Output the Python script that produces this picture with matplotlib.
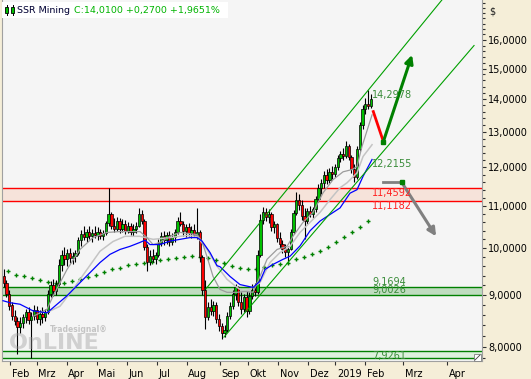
import matplotlib.pyplot as plt
import numpy as np
from matplotlib.patches import Rectangle
from matplotlib.ticker import NullFormatter
import matplotlib.transforms as mtransforms

# candles, one per 2 trading days (x = 2*k + 0.5)
opens = [9.40, 9.25, 9.02, 8.80, 8.58, 8.48, 8.36, 8.45, 8.55, 8.65,
         8.50, 8.58, 8.70, 8.52, 8.62, 8.55, 8.66, 9.02, 9.20, 9.08,
         9.22, 9.62, 9.85, 9.75, 9.90, 9.78, 9.82, 9.88, 10.18, 10.32,
         10.25, 10.38, 10.28, 10.35, 10.30, 10.38, 10.28, 10.35, 10.58, 10.80,
         10.52, 10.45, 10.62, 10.45, 10.55, 10.40, 10.50, 10.38, 10.45, 10.52,
         10.80, 10.62, 10.02, 9.70, 9.82, 9.75, 9.85, 10.12, 10.28, 10.18,
         10.30, 10.15, 10.25, 10.38, 10.62, 10.55, 10.40, 10.48, 10.35, 10.42,
         10.30, 10.38, 9.80, 9.10, 8.55, 8.75, 8.68, 8.80, 8.52, 8.38,
         8.25, 8.32, 8.58, 8.78, 9.02, 9.15, 8.85, 8.72, 8.95, 8.68,
         8.98, 9.10, 9.05, 9.85, 10.65, 10.85, 10.72, 10.80, 10.48, 10.55,
         10.22, 10.10, 9.98, 9.92, 9.98, 10.38, 10.82, 11.15, 11.02, 10.75,
         10.62, 10.88, 10.80, 10.92, 11.18, 11.45, 11.58, 11.80, 11.65, 11.88,
         11.82, 12.00, 12.25, 12.38, 12.30, 12.60, 12.28, 11.95, 11.75, 12.50,
         13.20, 13.68, 13.85, 13.78]
highs = [9.55, 9.30, 9.10, 8.85, 8.70, 8.55, 8.55, 8.62, 8.72, 8.75,
         8.65, 8.80, 8.78, 8.70, 8.75, 8.72, 9.10, 9.28, 9.32, 9.30,
         9.75, 9.95, 10.02, 9.98, 10.00, 9.92, 9.95, 10.25, 10.42, 10.50,
         10.45, 10.52, 10.45, 10.50, 10.48, 10.45, 10.42, 10.62, 11.45, 10.85,
         10.70, 10.72, 10.70, 10.68, 10.65, 10.60, 10.58, 10.55, 10.60, 10.95,
         10.90, 10.68, 10.10, 9.95, 9.98, 9.92, 10.20, 10.38, 10.40, 10.38,
         10.40, 10.35, 10.45, 10.72, 10.85, 10.62, 10.55, 10.58, 10.50, 10.55,
         10.95, 10.42, 9.85, 9.30, 8.85, 8.92, 8.88, 8.85, 8.62, 8.45,
         8.40, 8.65, 8.85, 9.10, 9.22, 9.18, 9.05, 9.02, 9.10, 9.05,
         9.22, 9.25, 9.95, 10.80, 10.98, 10.95, 10.92, 10.85, 10.62, 10.58,
         10.38, 10.18, 10.10, 10.05, 10.45, 10.90, 11.35, 11.30, 11.15, 10.95,
         10.95, 11.00, 10.98, 11.25, 11.55, 11.70, 11.90, 11.95, 11.98, 12.05,
         12.10, 12.35, 12.45, 12.55, 12.75, 12.65, 12.35, 12.10, 12.60, 13.30,
         13.80, 14.05, 14.2978, 14.15]
lows = [9.15, 8.95, 8.70, 8.50, 8.40, 7.88, 8.25, 8.35, 8.45, 8.42,
        7.80, 8.50, 8.45, 8.40, 8.45, 8.48, 8.62, 8.95, 8.98, 9.00,
        9.18, 9.50, 9.62, 9.60, 9.68, 9.65, 9.70, 9.85, 10.05, 10.18,
        10.15, 10.20, 10.15, 10.22, 10.18, 10.20, 10.18, 10.30, 10.50, 10.45,
        10.38, 10.40, 10.35, 10.38, 10.32, 10.35, 10.30, 10.28, 10.35, 10.48,
        10.55, 9.95, 9.50, 9.62, 9.70, 9.65, 9.80, 10.05, 10.08, 10.10,
        10.05, 10.08, 10.15, 10.32, 10.50, 10.28, 10.25, 10.28, 10.22, 10.25,
        10.20, 9.70, 9.00, 8.33, 8.50, 8.60, 8.58, 8.45, 8.30, 8.14,
        8.18, 8.28, 8.52, 8.72, 8.90, 8.78, 8.62, 8.65, 8.55, 8.62,
        8.92, 8.98, 9.02, 9.80, 10.55, 10.62, 10.58, 10.40, 10.35, 10.15,
        10.00, 9.88, 9.80, 9.72, 9.95, 10.32, 10.78, 10.90, 10.65, 10.20,
        10.55, 10.72, 10.70, 10.85, 11.10, 11.30, 11.45, 11.55, 11.58, 11.70,
        11.75, 11.92, 12.15, 12.20, 12.25, 12.20, 11.85, 11.60, 11.70, 12.45,
        13.10, 13.55, 13.70, 13.72]
closes = [9.25, 9.02, 8.78, 8.58, 8.48, 8.36, 8.45, 8.55, 8.65, 8.50,
          8.58, 8.70, 8.52, 8.62, 8.55, 8.66, 9.02, 9.20, 9.08, 9.22,
          9.62, 9.85, 9.75, 9.90, 9.78, 9.82, 9.88, 10.18, 10.32, 10.25,
          10.38, 10.28, 10.35, 10.30, 10.38, 10.28, 10.35, 10.58, 10.80, 10.52,
          10.45, 10.62, 10.45, 10.55, 10.40, 10.50, 10.38, 10.45, 10.52, 10.80,
          10.62, 10.02, 9.70, 9.82, 9.75, 9.85, 10.12, 10.28, 10.18, 10.30,
          10.15, 10.25, 10.38, 10.62, 10.55, 10.40, 10.48, 10.35, 10.42, 10.30,
          10.38, 9.80, 9.10, 8.55, 8.75, 8.68, 8.80, 8.52, 8.38, 8.25,
          8.32, 8.58, 8.78, 9.02, 9.15, 8.85, 8.72, 8.95, 8.68, 8.98,
          9.10, 9.05, 9.85, 10.65, 10.85, 10.72, 10.80, 10.48, 10.55, 10.22,
          10.10, 9.98, 9.92, 9.98, 10.38, 10.82, 11.15, 11.02, 10.75, 10.62,
          10.88, 10.80, 10.92, 11.18, 11.45, 11.58, 11.80, 11.65, 11.88, 11.82,
          12.00, 12.25, 12.38, 12.30, 12.60, 12.28, 11.95, 11.75, 12.50, 13.20,
          13.68, 13.85, 13.78, 14.01]

# moving averages
blue_x = [0, 5.1, 12.3, 21.7, 31.9, 36.2, 46.4, 55.8, 63.0, 70.3, 77.5, 84.8, 92.0,
          99.3, 102.9, 106.5, 113.8, 121.0, 128.3, 135.5, 140.6, 144.2, 150.0, 155.1,
          157.2, 164.5, 171.7, 181.2, 186.2, 189.9, 195.7, 202.9, 208.0, 215.2, 222.5,
          229.7, 237.0, 244.2, 251.4, 256.5, 260.9, 267.4]
blue_y = [8.88, 8.84, 8.81, 8.68, 8.64, 8.74, 8.98, 9.25, 9.46, 9.68, 9.86, 9.97, 10.04,
          10.13, 10.18, 10.08, 10.08, 10.16, 10.20, 10.24, 10.24, 10.16, 9.90, 9.61,
          9.59, 9.38, 9.21, 9.15, 9.28, 9.53, 9.64, 9.75, 9.82, 10.05, 10.40,
          10.63, 10.79, 10.95, 11.32, 11.41, 11.76, 12.2155]
gray_a_x = [21.7, 31.9, 36.2, 46.4, 55.8, 65.2, 75.4, 84.8, 99.3, 104.3, 108.7, 113.8,
            121.0, 128.3, 140.6, 144.2, 147.8, 152.2, 157.2, 162.3, 169.6, 175.4, 181.2,
            186.2, 191.3, 198.6, 205.8, 210.1, 217.4, 224.6, 231.9, 239.1, 246.4, 252.9,
            256.5, 260.1, 267.4]
gray_a_y = [8.57, 8.71, 8.97, 9.53, 9.97, 10.24, 10.36, 10.38, 10.38, 10.24, 10.08, 10.13,
            10.27, 10.36, 10.31, 10.15, 9.81, 9.38, 9.11, 9.05, 9.05, 9.07, 9.05,
            9.38, 9.75, 9.97, 10.04, 10.27, 10.60, 10.84, 11.33, 11.67, 11.88, 11.94,
            12.02, 12.58, 13.51]
gray_b_x = [31.9, 41.3, 50.7, 60.9, 70.3, 79.7, 88.4, 99.3, 108.7, 121.0, 133.3, 140.6,
            147.8, 155.1, 162.3, 169.6, 175.4, 186.2, 193.5, 200.7, 208.0, 215.2, 222.5,
            229.7, 237.0, 244.2, 249.3, 256.5, 260.9, 267.4]
gray_b_y = [8.65, 8.77, 9.11, 9.53, 9.93, 10.15, 10.27, 10.27, 10.20, 10.24, 10.29, 10.27,
            9.97, 9.60, 9.32, 9.15, 9.05, 9.25, 9.68, 9.90, 10.04, 10.36, 10.60,
            10.84, 11.16, 11.46, 11.59, 11.85, 12.30, 12.63]
dots_y = [9.49, 9.42, 9.38, 9.34, 9.30, 9.27, 9.25, 9.25, 9.28, 9.32,
          9.37, 9.42, 9.47, 9.53, 9.57, 9.62, 9.65, 9.68, 9.70, 9.73,
          9.75, 9.77, 9.80, 9.82, 9.81, 9.77, 9.73, 9.68, 9.60, 9.57,
          9.55, 9.54, 9.58, 9.63, 9.65, 9.68, 9.75, 9.81, 9.86, 9.93,
          10.02, 10.14, 10.25, 10.37, 10.48, 10.62]

# trend channel (x, price)
upper_x = [147.0, 318.0]
upper_y = [9.12, 17.51]
lower_x = [160.1, 341.3]
lower_y = [8.18, 15.80]

# zones
red_zone = [11.1182, 11.4592]
green_zone = [9.0026, 9.1694]
low_zone = [7.80, 7.9261]
ma_last = 12.2155

# scenario drawing
red_x, red_y = [268.3, 275.6], [13.61, 12.72]
up_x, up_y = [275.6, 296.4], [12.72, 15.47]
flat_x, flat_y = [275.6, 288.9], [11.60, 11.60]
down_x, down_y = [288.9, 313.8], [11.60, 10.27]

months = ['Feb', 'Mrz', 'Apr', 'Mai', 'Jun', 'Jul', 'Aug', 'Sep', 'Okt',
          'Nov', 'Dez', '2019', 'Feb', 'Mrz', 'Apr']
month_pos = [5.1, 24.4, 46.2, 67.9, 89.6, 111.4, 133.1, 157.2, 177.8,
             199.6, 221.2, 240.8, 262.4, 289.9, 321.7]
y_ticks = [8, 9, 10, 11, 12, 13, 14, 15, 16]


def fmt(v):
    return ('%.4f' % v).replace('.', ',')


def plot():
    plt.rcParams['font.family'] = 'DejaVu Sans'
    plt.rcParams['font.size'] = 7
    W, H = 531, 379
    fig = plt.figure(figsize=(W / 100, H / 100), dpi=100)
    fig.patch.set_facecolor('#f5eed8')
    ax = fig.add_axes([1.5 / W, 18 / H, 480 / W, 361 / H])
    ax.set_facecolor('#f5f5f5')
    ax.set_yscale('log')
    ax.set_xlim(-1.09, 346.7)
    ax.set_ylim(7.75, 17.51)

    # zones
    for zone, fill, edge in [(red_zone, '#f6e3da', '#ff0000'),
                             (green_zone, '#bfdcbf', '#008000'),
                             (low_zone, '#ddf1dd', '#008000')]:
        ax.axhspan(zone[0], zone[1], color=fill, zorder=1, lw=0)
        for v in zone:
            ax.axhline(v, color=edge, lw=1, zorder=1.5)

    # long average, dotted
    dots_x = 3.62 + 5.797 * np.arange(len(dots_y))
    ax.plot(dots_x, dots_y, linestyle='none', marker='+', ms=3.2, mew=1,
            color='#008000', zorder=2)

    # candles
    o = np.array(opens)
    c = np.array(closes)
    x = np.arange(len(c)) * 2 + 0.5
    cols = np.where(c >= o, '#00c000', '#ff0000')
    ax.vlines(x, lows, highs, color='black', lw=0.8, zorder=3)
    ax.bar(x, np.maximum(np.abs(c - o), 0.03), bottom=np.minimum(o, c), width=1.7,
           color=cols, edgecolor='black', linewidth=0.5, zorder=3.1)

    # moving averages
    ax.plot(gray_b_x, gray_b_y, color='#c4c4c4', lw=1.1, zorder=4)
    ax.plot(gray_a_x, gray_a_y, color='#9c9c9c', lw=0.9, zorder=4)
    ax.plot(blue_x, blue_y, color='#0000ff', lw=0.9, zorder=4.1)

    # channel
    ax.plot(upper_x, upper_y, color='#00a000', lw=0.8, zorder=5)
    ax.plot(lower_x, lower_y, color='#00a000', lw=0.8, zorder=5)

    # scenario
    ax.plot(red_x, red_y, color='#ff0000', lw=2, zorder=6)
    ax.annotate('', xy=(up_x[1], up_y[1]), xytext=(up_x[0], up_y[0]),
                arrowprops=dict(arrowstyle='-|>', color='#008000', lw=2.2,
                                mutation_scale=12, shrinkA=0, shrinkB=0), zorder=6)
    ax.plot(flat_x, flat_y, color='#808080', lw=2, zorder=6)
    ax.annotate('', xy=(down_x[1], down_y[1]), xytext=(down_x[0], down_y[0]),
                arrowprops=dict(arrowstyle='-|>', color='#808080', lw=2.2,
                                mutation_scale=12, shrinkA=0, shrinkB=0), zorder=6)
    ax.plot([up_x[0], down_x[0]], [up_y[0], down_y[0]], 's', color='#008000',
            ms=3.5, zorder=7)

    # value labels
    lx = 267.5
    ax.text(lx, max(highs), fmt(max(highs)), color='#3a8c3a', va='top', zorder=8)
    ax.text(lx, ma_last, fmt(ma_last), color='#3a8c3a', va='top', zorder=8)
    ax.text(lx, red_zone[1], fmt(red_zone[1]), color='#ff2020', va='top', zorder=8)
    ax.text(lx, red_zone[0], fmt(red_zone[0]), color='#ff2020', va='top', zorder=8)
    ax.text(lx, green_zone[1], fmt(green_zone[1]), color='#3a8c3a', va='bottom', zorder=8)
    ax.text(lx, green_zone[0], fmt(green_zone[0]), color='#3a8c3a', va='bottom', zorder=8)
    ax.text(lx, low_zone[1], fmt(low_zone[1]), color='#3a8c3a', va='top', zorder=8)

    # axes styling
    for s in ['left', 'bottom', 'right']:
        ax.spines[s].set_color('#a0a0a0')
    ax.spines['top'].set_visible(False)
    ax.yaxis.tick_right()
    ax.set_yticks(y_ticks)
    ax.set_yticklabels([fmt(v) for v in y_ticks])
    ax.set_yticks(np.arange(7.8, 17.5, 0.2), minor=True)
    ax.yaxis.set_minor_formatter(NullFormatter())
    ax.tick_params(axis='y', which='major', length=3, width=0.8, pad=2, color='#303030')
    ax.tick_params(axis='y', which='minor', length=2, width=0.8, color='#303030')
    ax.set_xticks(month_pos)
    ax.set_xticklabels(months, ha='left')
    ax.tick_params(axis='x', length=3, width=0.8, pad=3, color='#303030')
    off = mtransforms.ScaledTranslation(1.5 / 100, 0, fig.dpi_scale_trans)
    for lbl in ax.get_xticklabels():
        lbl.set_transform(lbl.get_transform() + off)

    # header box
    fig.add_artist(Rectangle((1.7 / W, 1 - 18 / H), 226.5 / W, 16.3 / H,
                             transform=fig.transFigure, facecolor='white',
                             edgecolor='none', zorder=10))
    for cx, col in [(6.5, '#00c000'), (12.5, '#00c000')]:
        fig.add_artist(plt.Line2D([cx / W, cx / W], [1 - 15 / H, 1 - 5 / H],
                                  transform=fig.transFigure, color='black', lw=0.7, zorder=11))
        fig.add_artist(Rectangle(((cx - 1.5) / W, 1 - 13 / H), 3 / W, 6 / H,
                                 transform=fig.transFigure, facecolor=col,
                                 edgecolor='black', lw=0.6, zorder=12))
    fig.text(17.3 / W, 1 - 10.5 / H, 'SSR Mining', color='#000033', va='center',
             fontsize=6.8, zorder=13)
    fig.text(74.5 / W, 1 - 10.5 / H, 'C:14,0100 +0,2700 +1,9651%', color='#00b400',
             va='center', fontsize=6.8, zorder=13)
    fig.text(489 / W, 1 - 11 / H, '$', color='#202020', va='center')

    # watermark
    fig.text(50 / W, 1 - 330 / H, 'Tradesignal\u00ae', color='#b0b0b0', fontsize=5.5,
             fontweight='bold', va='center', alpha=0.7)
    fig.text(9 / W, 1 - 343 / H, 'OnLINE', color='#9a9a9a', fontsize=16,
             fontweight='bold', va='center', alpha=0.4)

    # small corner icon
    fig.add_artist(Rectangle((474 / W, 18 / H), 7 / W, 7 / H, transform=fig.transFigure,
                             facecolor='white', edgecolor='#808080', lw=0.6, zorder=10))
    fig.add_artist(plt.Line2D([475 / W, 480 / W], [19 / H, 24 / H], transform=fig.transFigure,
                              color='#404040', lw=0.6, zorder=11))

    fig.savefig('out.png', dpi=100, facecolor=fig.get_facecolor())


if __name__ == '__main__':
    plot()
